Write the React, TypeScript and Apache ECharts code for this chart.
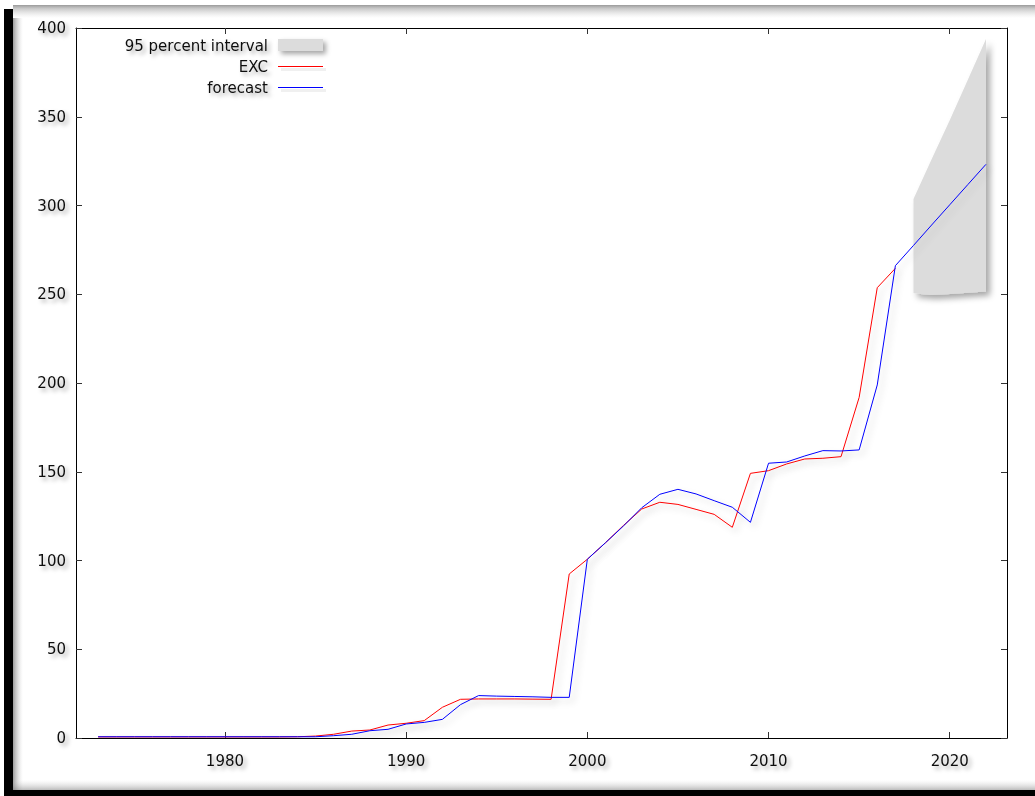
import React, { useEffect, useRef } from "react";
import * as echarts from "echarts";

const excYears = [
  1973, 1974, 1975, 1976, 1977, 1978, 1979, 1980, 1981, 1982, 1983, 1984, 1985,
  1986, 1987, 1988, 1989, 1990, 1991, 1992, 1993, 1994, 1995, 1996, 1997, 1998,
  1999, 2000, 2001, 2002, 2003, 2004, 2005, 2006, 2007, 2008, 2009, 2010, 2011,
  2012, 2013, 2014, 2015, 2016, 2017,
];
const excValues = [
  0.6, 0.6, 0.6, 0.6, 0.6, 0.6, 0.6, 0.6, 0.6, 0.6, 0.6, 0.7, 1.1,
  2.1, 3.9, 4.5, 7.3, 8.3, 9.8, 17.3, 21.8, 22.0, 22.0, 22.0, 21.9, 21.8,
  92.4, 100.7, 110.0, 119.8, 129.0, 132.8, 131.6, 128.8, 126.0, 118.7, 149.1, 150.6, 154.4,
  157.2, 157.6, 158.5, 191.9, 253.7, 264.6,
];

const forecastYears = [
  1973, 1974, 1975, 1976, 1977, 1978, 1979, 1980, 1981, 1982, 1983, 1984, 1985,
  1986, 1987, 1988, 1989, 1990, 1991, 1992, 1993, 1994, 1995, 1996, 1997, 1998,
  1999, 2000, 2001, 2002, 2003, 2004, 2005, 2006, 2007, 2008, 2009, 2010, 2011,
  2012, 2013, 2014, 2015, 2016, 2017, 2018, 2019, 2020, 2021, 2022,
];
const forecastValues = [
  0.7, 0.7, 0.7, 0.7, 0.7, 0.7, 0.7, 0.7, 0.7, 0.7, 0.7, 0.7, 0.7,
  1.3, 2.1, 4.1, 4.9, 7.9, 8.8, 10.5, 18.8, 23.9, 23.6, 23.4, 23.2, 22.9,
  22.9, 100.7, 110.0, 119.5, 129.7, 137.3, 140.1, 137.5, 133.7, 130.0, 121.5, 154.8, 155.5,
  158.9, 161.9, 161.7, 162.3, 198.9, 266.1, 277.5, 289.0, 300.4, 311.8, 323.2,
];

const intervalYears = [2018, 2019, 2020, 2021, 2022];
const intervalLower = [250.5, 249.6, 250.2, 250.9, 251.5];
const intervalUpper = [303.7, 326.0, 348.0, 370.8, 393.8];

const xTickLabels = [1980, 1990, 2000, 2010, 2020];
const legendLabels = ["95 percent interval", "EXC", "forecast"];

const FONT = "DejaVu Sans";
const textShadow = {
  textShadowColor: "rgba(0,0,0,0.35)",
  textShadowBlur: 4,
  textShadowOffsetX: 3,
  textShadowOffsetY: 3,
};
const lineShadow = {
  shadowColor: "rgba(0,0,0,0.22)",
  shadowBlur: 6,
  shadowOffsetX: 4,
  shadowOffsetY: 4,
};

const zip = (xs: number[], ys: number[]) => xs.map((x, i) => [x, ys[i]]);

export default function App() {
  const ref = useRef<HTMLDivElement>(null);

  useEffect(() => {
    if (!ref.current) return;
    const chart = echarts.init(ref.current, undefined, { renderer: "svg" });

    const axisLineStyle = { color: "#000", width: 1 };
    const tickStyle = { color: "#333", width: 1 };

    const bandData = intervalYears.map((y, i) => [y, intervalLower[i], intervalUpper[i]]);

    const legendText = (label: string, y: number) => ({
      type: "text",
      z: 50,
      x: 268,
      y,
      style: {
        text: label,
        fill: "#111",
        font: `15px "${FONT}"`,
        align: "right",
        verticalAlign: "middle",
        ...textShadow,
      },
    });
    const legendLine = (color: string, y: number) => [
      {
        type: "line",
        z: 49,
        shape: { x1: 281, y1: y + 3, x2: 326, y2: y + 3 },
        style: { stroke: "rgba(0,0,0,0.06)", lineWidth: 3 },
      },
      {
        type: "line",
        z: 50,
        shape: { x1: 278, y1: y, x2: 323, y2: y },
        style: { stroke: color, lineWidth: 1 },
      },
    ];

    const option: any = {
      animation: false,
      backgroundColor: "#fff",
      grid: {
        left: 76,
        right: 28,
        top: 28,
        bottom: 58,
        containLabel: false,
        outerBoundsMode: "none",
      },
      xAxis: [
        {
          type: "value",
          position: "bottom",
          min: 1971.78,
          max: 2023.16,
          axisLine: { show: true, onZero: false, lineStyle: axisLineStyle },
          axisTick: {
            show: true,
            inside: true,
            length: 6,
            lineStyle: tickStyle,
            customValues: xTickLabels,
          },
          axisLabel: {
            show: true,
            customValues: xTickLabels,
            margin: 15,
            color: "#111",
            fontFamily: FONT,
            fontSize: 15,
            formatter: (v: number) => String(Math.round(v)),
            ...textShadow,
          },
          splitLine: { show: false },
        },
        {
          type: "value",
          position: "top",
          min: 1971.78,
          max: 2023.16,
          axisLine: { show: true, onZero: false, lineStyle: axisLineStyle },
          axisTick: {
            show: true,
            inside: true,
            length: 6,
            lineStyle: tickStyle,
            customValues: xTickLabels,
          },
          axisLabel: { show: false, customValues: xTickLabels },
          splitLine: { show: false },
        },
      ],
      yAxis: [
        {
          type: "value",
          position: "left",
          min: 0,
          max: 400,
          interval: 50,
          axisLine: { show: true, onZero: false, lineStyle: axisLineStyle },
          axisTick: { show: true, inside: true, length: 6, lineStyle: tickStyle },
          axisLabel: {
            show: true,
            margin: 10,
            color: "#111",
            fontFamily: FONT,
            fontSize: 15,
            ...textShadow,
          },
          splitLine: { show: false },
        },
        {
          type: "value",
          position: "right",
          min: 0,
          max: 400,
          interval: 50,
          axisLine: { show: true, onZero: false, lineStyle: axisLineStyle },
          axisTick: { show: true, inside: true, length: 6, lineStyle: tickStyle },
          axisLabel: { show: false },
          splitLine: { show: false },
        },
      ],
      series: [
        {
          name: "95 percent interval",
          type: "custom",
          data: bandData,
          encode: { x: 0, y: [1, 2] },
          silent: true,
          z: 1,
          renderItem: (params: any, api: any) => {
            if (params.dataIndex !== 0) return null;
            const upperPts = bandData.map((d) => api.coord([d[0], d[2]]));
            const lowerPts = bandData
              .slice()
              .reverse()
              .map((d) => api.coord([d[0], d[1]]));
            return {
              type: "polygon",
              shape: { points: upperPts.concat(lowerPts) },
              style: {
                fill: "#dcdcdc",
                shadowColor: "rgba(0,0,0,0.35)",
                shadowBlur: 6,
                shadowOffsetX: 4,
                shadowOffsetY: 4,
              },
            };
          },
        },
        {
          name: "EXC",
          type: "line",
          data: zip(excYears, excValues),
          symbol: "none",
          lineStyle: { color: "#ff0000", width: 1, ...lineShadow },
          z: 3,
        },
        {
          name: "forecast",
          type: "line",
          data: zip(forecastYears, forecastValues),
          symbol: "none",
          lineStyle: { color: "#0000ff", width: 1, ...lineShadow },
          z: 4,
        },
      ],
      graphic: [
        {
          type: "rect",
          z: 100,
          silent: true,
          shape: { x: 13, y: 5, width: 1022, height: 13 },
          style: {
            fill: {
              type: "linear",
              x: 0, y: 0, x2: 0, y2: 1,
              colorStops: [
                { offset: 0, color: "rgba(120,120,120,0.75)" },
                { offset: 0.25, color: "rgba(150,150,150,0.55)" },
                { offset: 1, color: "rgba(200,200,200,0)" },
              ],
            },
          },
        },
        {
          type: "rect",
          z: 100,
          silent: true,
          shape: { x: 13, y: 18, width: 10, height: 772 },
          style: {
            fill: {
              type: "linear",
              x: 0, y: 0, x2: 1, y2: 0,
              colorStops: [
                { offset: 0, color: "rgba(90,90,90,0.6)" },
                { offset: 1, color: "rgba(200,200,200,0)" },
              ],
            },
          },
        },
        {
          type: "rect",
          z: 100,
          silent: true,
          shape: { x: 13, y: 780, width: 1022, height: 10 },
          style: {
            fill: {
              type: "linear",
              x: 0, y: 0, x2: 0, y2: 1,
              colorStops: [
                { offset: 0, color: "rgba(200,200,200,0)" },
                { offset: 1, color: "rgba(120,120,120,0.5)" },
              ],
            },
          },
        },
        {
          type: "rect",
          z: 101,
          silent: true,
          shape: { x: 4, y: 9, width: 9, height: 787 },
          style: { fill: "#000" },
        },
        {
          type: "rect",
          z: 101,
          silent: true,
          shape: { x: 4, y: 790, width: 1031, height: 6 },
          style: { fill: "#000" },
        },
        legendText(legendLabels[0], 46),
        {
          type: "rect",
          z: 50,
          shape: { x: 278, y: 39, width: 45, height: 12 },
          style: {
            fill: "#dcdcdc",
            shadowColor: "rgba(0,0,0,0.35)",
            shadowBlur: 5,
            shadowOffsetX: 3,
            shadowOffsetY: 3,
          },
        },
        legendText(legendLabels[1], 67),
        ...legendLine("#ff0000", 66.5),
        legendText(legendLabels[2], 88),
        ...legendLine("#0000ff", 87.5),
      ],
    };

    chart.setOption(option);
    return () => chart.dispose();
  }, []);

  return (
    <div
      ref={ref}
      style={{ position: "fixed", left: 0, top: 0, width: 1035, height: 796 }}
    />
  );
}
